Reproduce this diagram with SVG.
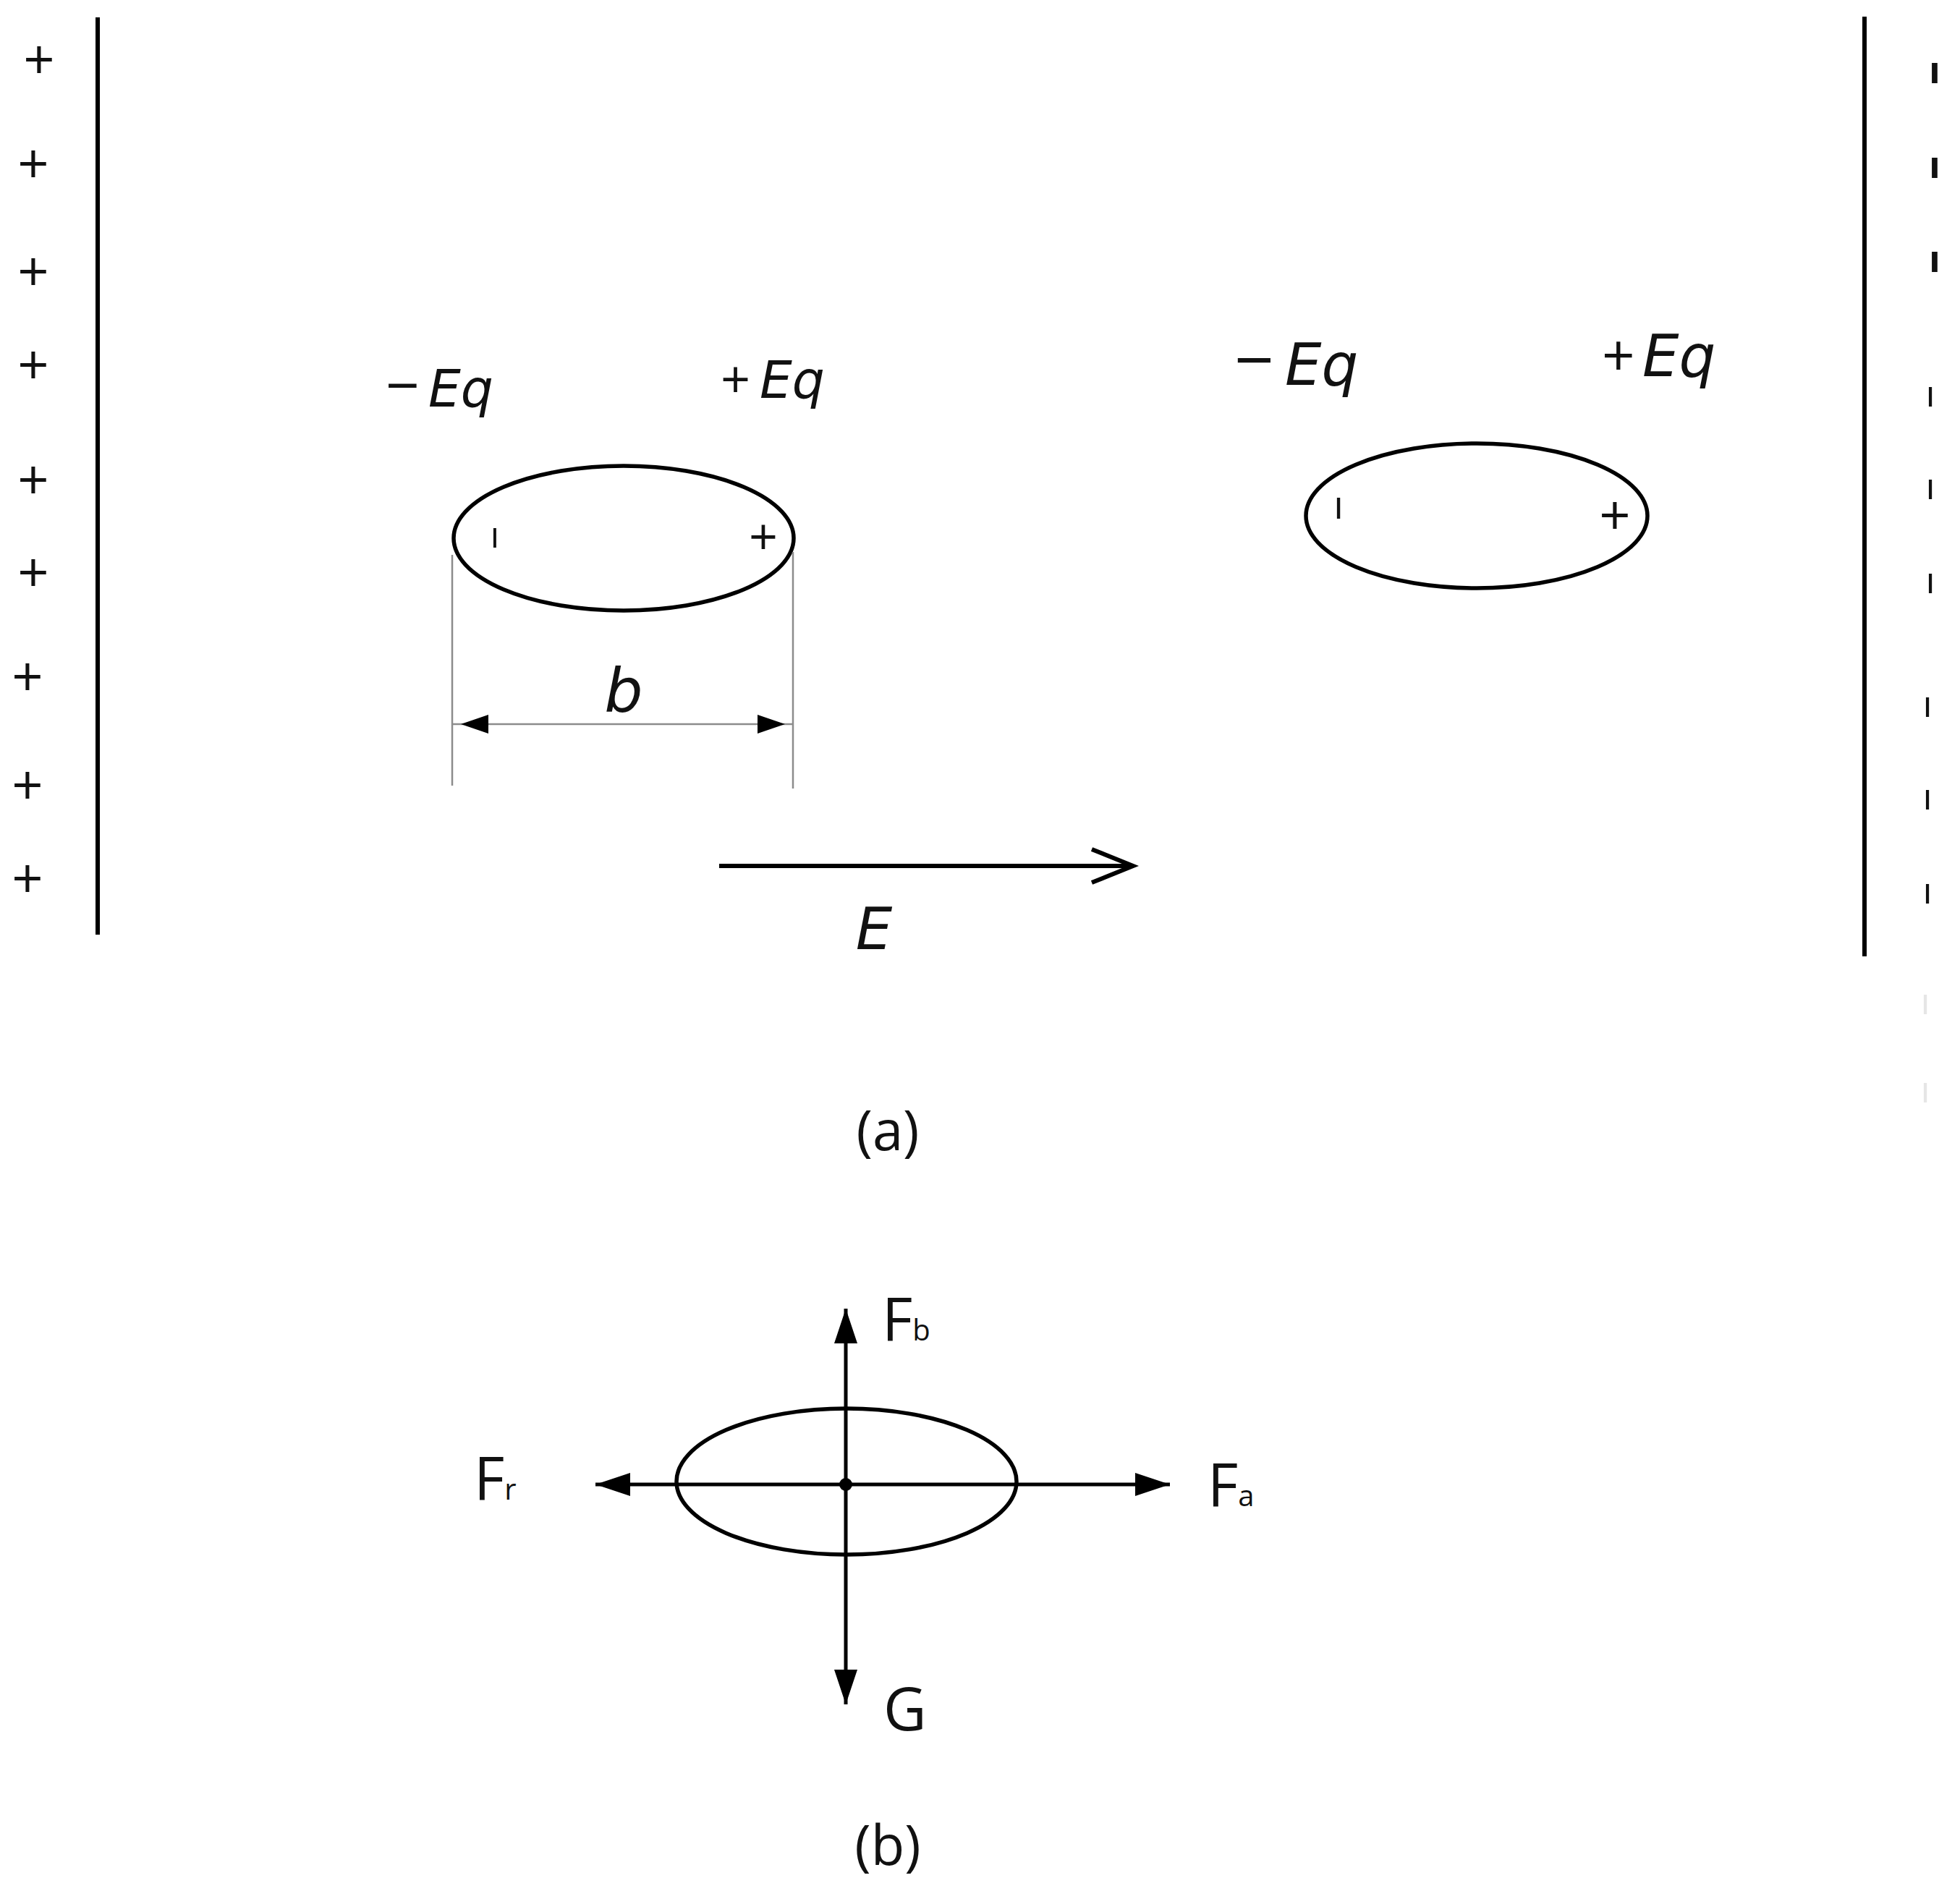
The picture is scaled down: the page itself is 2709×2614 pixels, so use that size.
<svg xmlns="http://www.w3.org/2000/svg" width="2709" height="2614" viewBox="0 0 2709 2614">
<style>
.bg{fill:#fff}
.plate{stroke:#000;stroke-width:6;fill:none}
.ell{stroke:#000;stroke-width:5.5;fill:none}
.dim{stroke:#8c8c8c;stroke-width:2.5;fill:none}
.force{stroke:#000;stroke-width:5;fill:none}
.field{stroke:#000;stroke-width:6;fill:none}
.sym{font-family:"Open Sans","Noto Sans","Liberation Sans",sans-serif;fill:#111}
.it{font-family:"DejaVu Sans","Verdana","Open Sans",sans-serif;font-style:italic;fill:#111}
.up{font-family:"Open Sans","Noto Sans","Liberation Sans",sans-serif;font-style:normal}
.lab{font-family:"Open Sans","Noto Sans","Liberation Sans",sans-serif;fill:#111;font-size:82px}
.sub{font-size:40px}
.cap{font-family:"Open Sans","Noto Sans","Liberation Sans",sans-serif;fill:#111;font-size:76px;text-anchor:middle}
.plus{font-size:76px;text-anchor:middle}
.tick{font-size:52px;text-anchor:middle}
</style>
<defs>
<marker id="tri" markerUnits="userSpaceOnUse" markerWidth="48" markerHeight="32" refX="48" refY="16" orient="auto" overflow="visible">
<path d="M0,0 L48,16 L0,32 Z" fill="#000"/>
</marker>
<marker id="dimtri" markerUnits="userSpaceOnUse" markerWidth="38" markerHeight="26" refX="49" refY="13" orient="auto-start-reverse" overflow="visible">
<path d="M0,0 L38,13 L0,26 Z" fill="#000"/>
</marker>
<marker id="open" markerUnits="userSpaceOnUse" markerWidth="60" markerHeight="50" refX="57" refY="24" orient="auto" overflow="visible">
<path d="M0,1 L57,24 L0,47" fill="none" stroke="#000" stroke-width="6"/>
</marker>
</defs>
<rect class="bg" x="0" y="0" width="2709" height="2614"/>

<g id="left-plate">
<line class="plate" x1="135" y1="24" x2="135" y2="1292"/>
<g class="sym plus">
<text x="54" y="110">+</text>
<text x="46" y="254">+</text>
<text x="46" y="403">+</text>
<text x="46" y="532">+</text>
<text x="46" y="691">+</text>
<text x="46" y="819">+</text>
<text x="38" y="963">+</text>
<text x="38" y="1113">+</text>
<text x="38" y="1242">+</text>
</g>
</g>

<g id="right-plate">
<line class="plate" x1="2577" y1="23" x2="2577" y2="1322"/>
<g class="sym tick">
<text x="2674" y="115" font-weight="bold">ı</text>
<text x="2674" y="246" font-weight="bold">ı</text>
<text x="2674" y="376" font-weight="bold">ı</text>
<text x="2668" y="562">ı</text>
<text x="2668" y="690">ı</text>
<text x="2668" y="820">ı</text>
<text x="2664" y="991">ı</text>
<text x="2664" y="1119">ı</text>
<text x="2664" y="1249">ı</text>
<text x="2661" y="1402" fill="#e6e6e6">ı</text>
<text x="2661" y="1524" fill="#e6e6e6">ı</text>
</g>
</g>

<g id="particle-1">
<ellipse class="ell" cx="862" cy="744" rx="235" ry="100"/>
<text class="sym" x="684" y="757" font-size="49" text-anchor="middle">ı</text>
<text class="sym" x="1055" y="767" font-size="70" text-anchor="middle">+</text>
<text class="it" font-size="71" y="562"><tspan class="up" x="533" font-size="82">−</tspan><tspan x="592">Eq</tspan></text>
<text class="it" font-size="71" y="550"><tspan class="up" x="996" font-size="72">+</tspan><tspan x="1050">Eq</tspan></text>
</g>

<g id="particle-2">
<ellipse class="ell" cx="2041" cy="713" rx="236" ry="100"/>
<text class="sym" x="1850" y="717" font-size="54" text-anchor="middle">ı</text>
<text class="sym" x="2232" y="740" font-size="76" text-anchor="middle">+</text>
<text class="it" font-size="80" y="532"><tspan class="up" x="1706" font-size="96">−</tspan><tspan x="1776">Eq</tspan></text>
<text class="it" font-size="80" y="520"><tspan class="up" x="2214" font-size="80">+</tspan><tspan x="2270">Eq</tspan></text>
</g>

<g id="dimension-b">
<line class="dim" x1="625" y1="767" x2="625" y2="1086"/>
<line class="dim" x1="1096" y1="763" x2="1096" y2="1090"/>
<text class="it" x="862" y="984" font-size="84" text-anchor="middle">b</text>
</g>

<g id="field-label">
<text class="it" x="1208" y="1312" font-size="80" text-anchor="middle">E</text>
</g>

<g id="caption-a">
<text class="cap" x="1227" y="1590">(a)</text>
</g>

<g id="particle-forces">
<ellipse class="ell" cx="1170" cy="2048" rx="235" ry="101"/>
<circle cx="1169" cy="2052" r="9" fill="#000"/>
</g>

<g id="force-labels">
<text class="lab" x="1219" y="1853">F<tspan class="sub">b</tspan></text>
<text class="lab" x="655" y="2073">F<tspan class="sub">r</tspan></text>
<text class="lab" x="1669" y="2082">F<tspan class="sub">a</tspan></text>
<text class="lab" x="1221" y="2392">G</text>
</g>

<g id="caption-b">
<text class="cap" x="1227" y="2578">(b)</text>
</g>

<g id="connectors">
<path class="dim" d="M626,1001 H1096" marker-start="url(#dimtri)" marker-end="url(#dimtri)"/>
<path class="field" d="M994,1197 H1566" marker-end="url(#open)"/>
<path class="force" d="M1169,2052 V1809" marker-end="url(#tri)"/>
<path class="force" d="M1169,2052 V2356" marker-end="url(#tri)"/>
<path class="force" d="M1169,2052 H823" marker-end="url(#tri)"/>
<path class="force" d="M1169,2052 H1617" marker-end="url(#tri)"/>
</g>
</svg>
